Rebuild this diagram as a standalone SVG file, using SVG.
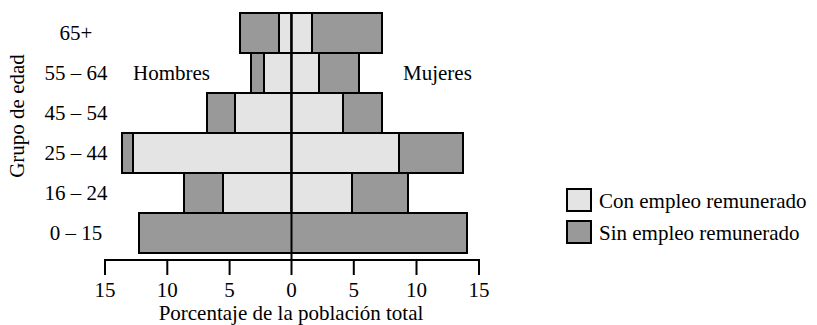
<svg xmlns="http://www.w3.org/2000/svg" width="817" height="325" viewBox="0 0 817 325">
<style>
text{font-family:"Liberation Serif","Times New Roman",serif;font-size:21px;fill:#000}
.lab{text-anchor:middle}
.lt{fill:#e4e4e4;stroke:#000;stroke-width:2}
.dk{fill:#999;stroke:#000;stroke-width:2}
.ax{stroke:#000;stroke-width:2;fill:none}
</style>
<rect width="817" height="325" fill="#fff"/>
<text transform="translate(24,116) rotate(-90)" text-anchor="middle">Grupo de edad</text>
<g id="row-65">
<text class="lab" x="76" y="40">65+</text>
<rect class="dk" x="240" y="13" width="39" height="40"/>
<rect class="lt" x="279" y="13" width="12.5" height="40"/>
<rect class="lt" x="291.5" y="13" width="20.5" height="40"/>
<rect class="dk" x="312" y="13" width="70" height="40"/>
</g>
<g id="row-55">
<text class="lab" x="76" y="80">55 – 64</text>
<rect class="dk" x="251" y="53" width="13" height="40"/>
<rect class="lt" x="264" y="53" width="27.5" height="40"/>
<rect class="lt" x="291.5" y="53" width="27.5" height="40"/>
<rect class="dk" x="319" y="53" width="40" height="40"/>
</g>
<g id="row-45">
<text class="lab" x="76" y="120">45 – 54</text>
<rect class="dk" x="207" y="93" width="28" height="40"/>
<rect class="lt" x="235" y="93" width="56.5" height="40"/>
<rect class="lt" x="291.5" y="93" width="51.5" height="40"/>
<rect class="dk" x="343" y="93" width="39" height="40"/>
</g>
<g id="row-25">
<text class="lab" x="76" y="160">25 – 44</text>
<rect class="dk" x="122" y="133" width="11" height="40"/>
<rect class="lt" x="133" y="133" width="158.5" height="40"/>
<rect class="lt" x="291.5" y="133" width="107.5" height="40"/>
<rect class="dk" x="399" y="133" width="64" height="40"/>
</g>
<g id="row-16">
<text class="lab" x="76" y="200">16 – 24</text>
<rect class="dk" x="184" y="173" width="39" height="40"/>
<rect class="lt" x="223" y="173" width="68.5" height="40"/>
<rect class="lt" x="291.5" y="173" width="60.5" height="40"/>
<rect class="dk" x="352" y="173" width="56" height="40"/>
</g>
<g id="row-0">
<text class="lab" x="76" y="240">0 – 15</text>
<rect class="dk" x="139" y="213" width="328" height="40"/>
</g>
<text x="133" y="80">Hombres</text>
<text x="403" y="80">Mujeres</text>
<g id="axis">
<line class="ax" x1="291.5" y1="13" x2="291.5" y2="275"/>
<path class="ax" d="M105,275V260H479V275M167.3,260V275M229.6,260V275M353.8,260V275M416.5,260V275"/>
<text class="lab" x="105" y="297">15</text>
<text class="lab" x="167.3" y="297">10</text>
<text class="lab" x="229.6" y="297">5</text>
<text class="lab" x="291.5" y="297">0</text>
<text class="lab" x="353.8" y="297">5</text>
<text class="lab" x="416.5" y="297">10</text>
<text class="lab" x="479" y="297">15</text>
<text class="lab" x="291" y="320">Porcentaje de la población total</text>
</g>
<g id="legend-con">
<rect class="lt" x="567" y="189" width="24" height="22"/>
<text x="599" y="208">Con empleo remunerado</text>
</g>
<g id="legend-sin">
<rect class="dk" x="567" y="221" width="24" height="22"/>
<text x="599" y="240">Sin empleo remunerado</text>
</g>
</svg>
